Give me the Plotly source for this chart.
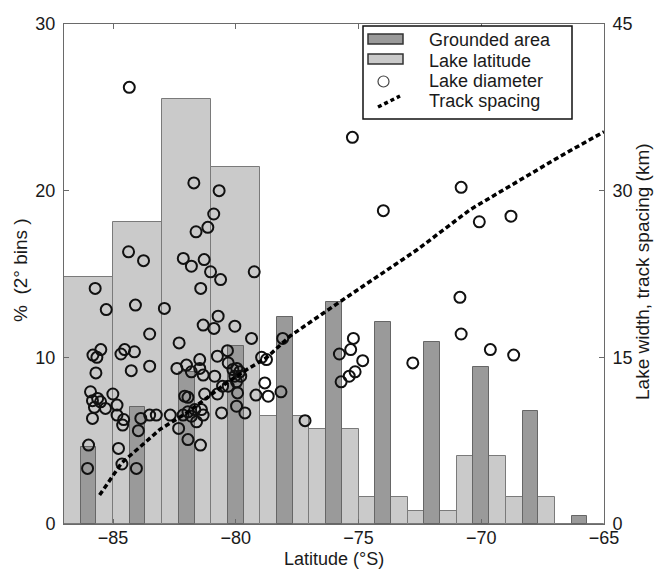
import plotly.graph_objects as go

# Histogram bins (2 degree bins, centres in degrees latitude)
bin_centres = [-86, -84, -82, -80, -78, -76, -74, -72, -70, -68, -66]
grounded_area_pct = [4.6, 7.0, 9.1, 10.7, 12.4, 13.3, 12.1, 10.9, 9.4, 6.8, 0.5]
lake_latitude_pct = [14.8, 18.1, 25.5, 21.4, 6.5, 5.7, 1.6, 0.8, 4.1, 1.6, 0.0]

# Individual lakes: latitude and diameter (km)
lake_lat = [
    -84.34, -81.71, -80.68, -80.90, -81.14, -81.62, -84.37, -83.76, -82.14, -81.81,
    -81.29, -81.03, -80.62, -79.25, -85.73, -81.43, -85.28, -84.09, -82.91, -80.72,
    -81.33, -80.89, -80.04, -83.51, -79.36, -82.31, -85.82, -85.50, -85.66, -84.68,
    -84.53, -84.13, -80.34, -80.75, -81.47, -80.31, -85.70, -84.26, -83.51, -82.40,
    -82.01, -81.81, -81.47, -81.33, -80.86, -80.12, -79.96, -79.84, -80.04, -79.80,
    -78.95, -78.75, -78.09, -80.54, -80.31, -79.97, -78.82, -85.92, -85.84, -85.63,
    -85.51, -85.76, -85.31, -85.84, -85.01, -84.84, -84.84, -84.57, -84.61, -83.87,
    -83.51, -83.24, -82.67, -82.33, -83.97, -86.00, -86.04, -84.78, -84.64, -84.05,
    -81.27, -80.75, -79.93, -79.18, -78.68, -78.16, -82.08, -81.95, -82.15, -81.95,
    -81.81, -81.67, -81.40, -81.33, -81.60, -79.97, -80.58, -79.63, -81.95, -81.44,
    -75.25, -73.99, -70.82, -70.08, -68.79, -70.87, -70.82, -69.63, -68.68, -72.79,
    -75.21, -75.32, -75.78, -74.83, -75.14, -75.38, -75.71, -77.18,
]
lake_km = [
    39.3, 30.7, 30.0, 27.9, 26.7, 26.3, 24.5, 23.7, 23.9, 23.2,
    23.8, 22.7, 22.0, 22.7, 21.2, 21.2, 19.3, 19.7, 19.4, 18.7,
    17.9, 17.6, 17.8, 17.1, 16.7, 16.3, 15.2, 15.7, 15.0, 15.3,
    15.7, 15.5, 15.6, 15.1, 14.8, 14.5, 13.6, 13.8, 14.2, 14.0,
    14.3, 13.7, 14.0, 13.4, 13.3, 13.9, 14.0, 13.7, 13.3, 13.3,
    15.0, 14.8, 16.7, 12.4, 12.4, 12.8, 12.7, 11.9, 11.1, 11.3,
    11.0, 10.5, 10.4, 9.5, 11.7, 10.7, 9.8, 9.4, 8.9, 9.5,
    9.8, 9.8, 9.8, 8.6, 8.4, 7.1, 5.0, 6.8, 5.4, 5.0,
    11.7, 11.7, 11.8, 11.6, 11.5, 11.9, 11.5, 11.4, 9.8, 10.1,
    9.7, 10.3, 10.3, 9.8, 9.2, 10.6, 10.0, 10.0, 7.6, 7.1,
    34.8, 28.2, 30.3, 27.2, 27.7, 20.4, 17.1, 15.7, 15.2, 14.5,
    16.7, 15.7, 15.3, 14.7, 13.7, 13.3, 12.8, 9.3,
]

# Satellite ground-track spacing versus latitude (km)
track_lat = [-85.55, -84.65, -83.92, -83.10, -82.00, -81.18, -80.37, -79.55,
             -78.73, -77.80, -75.76, -72.60, -70.45, -66.78, -65.00]
track_km = [2.6, 5.5, 6.9, 8.5, 10.0, 11.4, 12.7, 13.9,
            15.0, 16.9, 20.0, 24.7, 28.3, 33.1, 35.3]

legend_labels = ["Grounded area", "Lake latitude", "Lake diameter", "Track spacing"]
x_title = "Latitude (°S)"
y_title = "%  (2° bins )"
y2_title = "Lake width, track spacing (km)"

FONT = "Liberation Sans, Arial, Helvetica, sans-serif"
AXIS_COLOR = "#6a6a6a"
TEXT_COLOR = "#1a1a1a"
LIGHT_FILL, LIGHT_EDGE = "#cacaca", "#7a7a7a"
DARK_FILL, DARK_EDGE = "#9a9a9a", "#666666"

fig = go.Figure()

fig.add_trace(go.Bar(
    x=bin_centres, y=lake_latitude_pct, width=2.0, name=legend_labels[1],
    marker=dict(color=LIGHT_FILL, line=dict(color=LIGHT_EDGE, width=1)),
))
fig.add_trace(go.Bar(
    x=bin_centres, y=grounded_area_pct, width=0.64, name=legend_labels[0],
    marker=dict(color=DARK_FILL, line=dict(color=DARK_EDGE, width=1)),
))
fig.add_trace(go.Scatter(
    x=lake_lat, y=lake_km, yaxis="y2", mode="markers", name=legend_labels[2],
    marker=dict(symbol="circle-open", size=11, color="#111111",
                line=dict(width=2, color="#111111")),
))
fig.add_trace(go.Scatter(
    x=track_lat, y=track_km, yaxis="y2", mode="lines", name=legend_labels[3],
    line=dict(color="#000000", width=3.5, dash="5px,3px"),
))

tick_common = dict(
    ticks="inside", ticklen=5, tickcolor=AXIS_COLOR,
    showline=True, linecolor=AXIS_COLOR, linewidth=1,
    showgrid=False, zeroline=False, automargin=False,
    tickfont=dict(family=FONT, size=18, color=TEXT_COLOR),
)

# Paper-coordinate helpers for the plot area (64..604 px wide, 24..524 px tall)
W, H, L, B = 540.0, 500.0, 64.0, 47.0
def px(x):
    return (x - L) / W
def py(y):
    return (571.0 - B - y) / H

# Boxed legend in the upper right of the axes
shapes = [
    dict(type="rect", xref="paper", yref="paper",
         x0=px(363), x1=px(572), y0=py(119), y1=py(26),
         fillcolor="white", line=dict(color="#111111", width=1.5), layer="above"),
    dict(type="rect", xref="paper", yref="paper",
         x0=px(368), x1=px(403), y0=py(44), y1=py(34),
         fillcolor=DARK_FILL, line=dict(color="#333333", width=1.5), layer="above"),
    dict(type="rect", xref="paper", yref="paper",
         x0=px(368), x1=px(403), y0=py(64), y1=py(54),
         fillcolor=LIGHT_FILL, line=dict(color="#333333", width=1.5), layer="above"),
    dict(type="circle", xref="paper", yref="paper",
         x0=px(378), x1=px(389), y0=py(87), y1=py(76),
         line=dict(color="#444444", width=1.2), layer="above"),
    dict(type="line", xref="paper", yref="paper",
         x0=px(378), x1=px(400), y0=py(107), y1=py(96),
         line=dict(color="#000000", width=3.5, dash="4px,3px"), layer="above"),
]
annotations = [
    dict(text=lab, xref="paper", yref="paper", x=px(427), y=py(yc),
         xanchor="left", yanchor="middle", showarrow=False,
         font=dict(family=FONT, size=18, color=TEXT_COLOR))
    for lab, yc in zip(legend_labels, [40, 61, 81, 101])
]

# Axis titles
annotations += [
    dict(text=x_title, xref="paper", yref="paper", x=px(334), y=py(559),
         xanchor="center", yanchor="middle", showarrow=False,
         font=dict(family=FONT, size=18, color=TEXT_COLOR)),
    dict(text=y_title, xref="paper", yref="paper", x=px(20), y=py(270),
         xanchor="center", yanchor="middle", showarrow=False, textangle=-90,
         font=dict(family=FONT, size=19, color=TEXT_COLOR)),
    dict(text=y2_title, xref="paper", yref="paper", x=px(642), y=py(272),
         xanchor="center", yanchor="middle", showarrow=False, textangle=-90,
         font=dict(family=FONT, size=19, color=TEXT_COLOR)),
]

fig.update_layout(
    width=656, height=571,
    margin=dict(l=64, r=52, t=24, b=47, autoexpand=False),
    paper_bgcolor="white", plot_bgcolor="white",
    barmode="overlay", bargap=0, showlegend=False,
    font=dict(family=FONT, size=18, color=TEXT_COLOR),
    shapes=shapes, annotations=annotations,
    xaxis=dict(
        range=[-87, -65], tickvals=[-85, -80, -75, -70, -65],
        mirror="ticks", ticklabelstandoff=-3, **tick_common,
    ),
    yaxis=dict(
        range=[0, 30], tickvals=[0, 10, 20, 30], mirror=True,
        ticklabelstandoff=4, **tick_common,
    ),
    yaxis2=dict(
        range=[0, 45], tickvals=[0, 15, 30, 45], overlaying="y", side="right",
        ticklabelstandoff=4, **tick_common,
    ),
)

fig.write_html("out.html")
